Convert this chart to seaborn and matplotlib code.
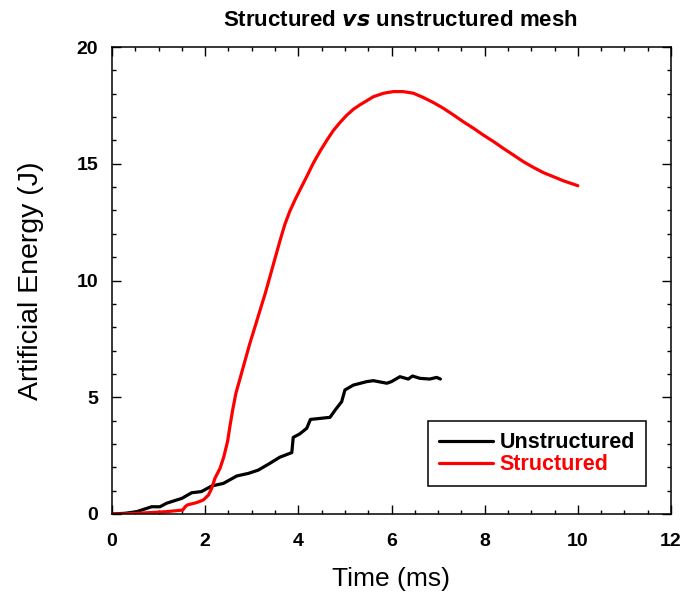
import matplotlib
matplotlib.use("Agg")
import matplotlib.pyplot as plt
import seaborn as sns
import pandas as pd
from matplotlib.ticker import MultipleLocator
from matplotlib.lines import Line2D

# ---- data ----
struct_t = [0, 0.24, 0.82, 1.17, 1.52, 1.57, 1.62, 1.82, 1.96, 2.07, 2.14, 2.21, 2.32, 2.40,
            2.48, 2.53, 2.59, 2.66, 2.75, 2.86, 2.96, 3.07, 3.18, 3.29, 3.39, 3.50, 3.61,
            3.71, 3.82, 3.93, 4.04, 4.18, 4.32, 4.47, 4.61, 4.75, 4.90, 5.04, 5.18, 5.32,
            5.47, 5.61, 5.83, 6.04, 6.25, 6.47, 6.68, 6.90, 7.11, 7.33, 7.54, 7.76, 7.97,
            8.19, 8.40, 8.62, 8.83, 9.04, 9.26, 9.47, 9.69, 10.0]
struct_e = [0, 0, 0.06, 0.10, 0.17, 0.31, 0.39, 0.49, 0.60, 0.81, 1.10, 1.53, 1.96, 2.45,
            3.10, 3.74, 4.45, 5.17, 5.81, 6.60, 7.31, 8.02, 8.74, 9.45, 10.16, 10.95, 11.73,
            12.40, 12.98, 13.46, 13.90, 14.45, 15.02, 15.55, 16.00, 16.42, 16.78, 17.08, 17.33, 17.52,
            17.70, 17.87, 18.02, 18.09, 18.09, 18.02, 17.84, 17.62, 17.38, 17.09, 16.80, 16.52, 16.23,
            15.95, 15.66, 15.37, 15.09, 14.85, 14.62, 14.45, 14.27, 14.06]

unstruct_t = [0, 0.28, 0.53, 0.85, 1.03, 1.17, 1.5, 1.71, 1.92, 2.14, 2.39, 2.68, 2.93, 3.14,
              3.39, 3.6, 3.86, 3.89, 4.03, 4.18, 4.26, 4.68, 4.79, 4.93, 5.0, 5.18, 5.47,
              5.61, 5.9, 6.0, 6.18, 6.36, 6.45, 6.61, 6.82, 6.97, 7.05]
unstruct_e = [0, 0.03, 0.1, 0.31, 0.31, 0.46, 0.67, 0.91, 0.96, 1.2, 1.31, 1.63, 1.74, 1.88,
              2.17, 2.43, 2.63, 3.28, 3.43, 3.67, 4.05, 4.14, 4.45, 4.81, 5.31, 5.52, 5.67,
              5.71, 5.6, 5.67, 5.88, 5.78, 5.91, 5.81, 5.78, 5.85, 5.78]

labels = ["Unstructured", "Structured"]
colors = ["black", "red"]
x_ticks = [0, 2, 4, 6, 8, 10, 12]
y_ticks = [0, 5, 10, 15, 20]

df = pd.concat([
    pd.DataFrame({"t": unstruct_t, "e": unstruct_e, "mesh": labels[0]}),
    pd.DataFrame({"t": struct_t, "e": struct_e, "mesh": labels[1]}),
])

sns.set_style("ticks")
plt.rcParams["font.family"] = ["Liberation Sans", "DejaVu Sans"]
plt.rcParams["text.color"] = "black"
plt.rcParams["axes.labelcolor"] = "black"
plt.rcParams["xtick.color"] = "black"
plt.rcParams["ytick.color"] = "black"

fig = plt.figure(figsize=(6.84, 5.96), dpi=100)
ax = fig.add_axes([112/684, (596-514)/596, 559/684, 467/596])

sns.lineplot(data=df, x="t", y="e", hue="mesh", palette=dict(zip(labels, colors)),
             sort=False, estimator=None, linewidth=2.3, ax=ax, legend=False)

ax.set_xlim(0, 12)
ax.set_ylim(0, 20)
ax.set_xticks(x_ticks)
ax.set_yticks(y_ticks)
ax.xaxis.set_minor_locator(MultipleLocator(0.5))
ax.yaxis.set_minor_locator(MultipleLocator(1))
ax.tick_params(which="both", direction="in", top=True, right=True, color="black",
               labelcolor="black", width=1)
ax.tick_params(which="major", length=6.5)
ax.tick_params(which="minor", length=3.2)
ax.tick_params(axis="x", which="major", pad=14)
ax.tick_params(axis="y", which="major", pad=10)
for lab in ax.get_xticklabels() + ax.get_yticklabels():
    lab.set_fontweight("bold")
    lab.set_fontsize(14)
for s in ax.spines.values():
    s.set_linewidth(1.1)
    s.set_color("black")

ax.set_xlabel("Time (ms)", fontsize=19, labelpad=12, color="black")
ax.set_ylabel("Artificial Energy (J)", fontsize=20.5, labelpad=23, color="black")
fig.text(400/684, 1 - 20/596, "Structured $\\mathbfit{vs}$ unstructured mesh", ha="center", va="center",
         fontsize=16, fontweight="bold", color="black")

handles = [Line2D([], [], color=c, linewidth=2.3) for c in colors]
leg = ax.legend(handles, labels, loc="lower right", bbox_to_anchor=(0.9553, 0.06),
                borderaxespad=0, fancybox=False, framealpha=1, edgecolor="black",
                handlelength=2.55, prop={"weight": "bold", "size": 15.5},
                labelspacing=0.05, borderpad=0.5, handletextpad=0.3)
leg.get_frame().set_linewidth(1.1)
for txt, c in zip(leg.get_texts(), colors):
    txt.set_color(c)

fig.savefig("out.png", dpi=100)
